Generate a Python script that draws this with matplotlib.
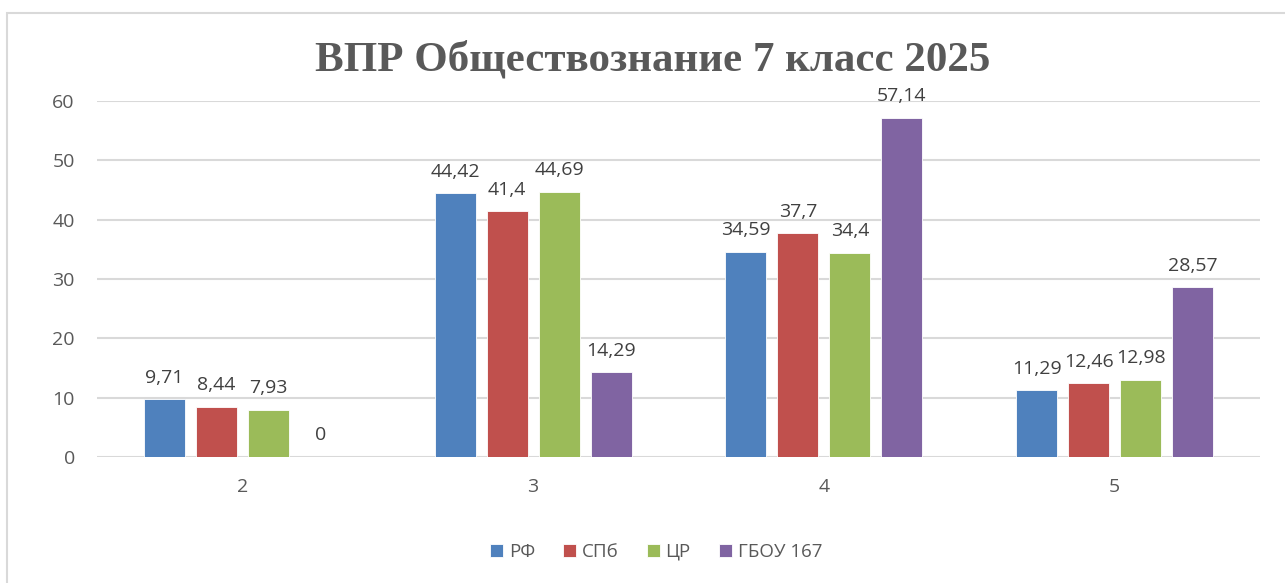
import numpy as np
import matplotlib.pyplot as plt
from matplotlib.patches import Rectangle

categories = ['2', '3', '4', '5']
series_names = ['РФ', 'СПб', 'ЦР', 'ГБОУ 167']
rf = [9.71, 44.42, 34.59, 11.29]
spb = [8.44, 41.4, 37.7, 12.46]
cr = [7.93, 44.69, 34.4, 12.98]
school = [0, 14.29, 57.14, 28.57]
colors = ['#4F81BD', '#C0504D', '#9BBB59', '#8064A2']

text_color = '#595959'
plt.rcParams['font.family'] = ['Open Sans', 'DejaVu Sans']

fig = plt.figure(figsize=(12.85, 5.83), dpi=100)
fig.patches.append(Rectangle((7 / 1285, -0.1), 1.2, 1 - 13 / 583 + 0.1,
                             transform=fig.transFigure, fill=False,
                             edgecolor='#D9D9D9', linewidth=1.5))

ax = fig.add_axes([97 / 1285, 126 / 583, (1260 - 97) / 1285, (457 - 101) / 583])
x = np.arange(len(categories))
width = 0.141
step = 0.179

for j, (name, vals) in enumerate(zip(series_names, [rf, spb, cr, school])):
    pos = x + (j - 1.5) * step
    bars = ax.bar(pos, vals, width, color=colors[j], label=name,
                  edgecolor='white', linewidth=0.6, zorder=3)
    labels = [str(v).replace('.', ',') if v != int(v) else str(int(v)) for v in vals]
    ax.bar_label(bars, labels=labels, padding=9, fontsize=14, color='#404040')

ax.set_xlim(-0.5, len(categories) - 0.5)
ax.set_ylim(0, 60)
ax.set_yticks(range(0, 61, 10))
ax.set_xticks(x)
ax.set_xticklabels(categories)
ax.tick_params(axis='both', length=0, labelsize=14, colors=text_color)
ax.tick_params(axis='y', pad=16)
ax.tick_params(axis='x', pad=15)
ax.grid(axis='y', color='#D9D9D9', linewidth=1.5, zorder=0)
for s in ax.spines.values():
    s.set_visible(False)

fig.text(653 / 1285, 1 - 60 / 583, 'ВПР Обществознание 7 класс 2025',
         ha='center', va='center', fontsize=31, fontweight='bold',
         family='Liberation Serif', color=text_color)

fig.legend(loc='center', bbox_to_anchor=(656 / 1285, 1 - 552 / 583), ncol=4,
           frameon=False, fontsize=13.5, handlelength=0.7, handleheight=0.7,
           handletextpad=0.3, columnspacing=1.5, labelcolor=text_color)

fig.savefig('out.png', dpi=100)
